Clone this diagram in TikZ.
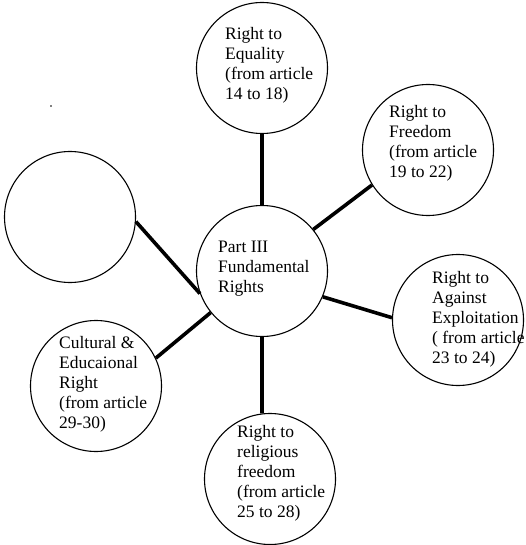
\documentclass[tikz,border=0pt]{standalone}
\usepackage{fontspec}
\setmainfont{Liberation Serif}
\usepackage{tikz}
\tikzset{
  bubble/.style={circle,draw,line width=1.1pt,minimum size=131pt,inner sep=0pt},
  spoke/.style={line width=3.6pt},
  label/.style={anchor=north west,align=left,inner sep=0pt,
    font=\fontsize{17.5}{20}\selectfont},
}

\begin{document}
\begin{tikzpicture}[x=1pt,y=-1pt]
        \useasboundingbox (0,0) rectangle (525,545);

        % CIRCLES
        \node[bubble] (FR) at (262,271) {};
        \node[bubble] (EQ) at (262,68) {};
        \node[bubble] (FD) at (428,150) {};
        \node[bubble] (NN) at (70,217) {};
        \node[bubble] (EX) at (458,320) {};
        \node[bubble] (CU) at (96,386) {};
        \node[bubble] (RE) at (270,479) {};

        % TEXTS (top of first line)
        \node[label] (FRt) at (218,241) {Part III\\Fundamental\\Rights};
        \node[label] (EQt) at (225,27) {Right to\\Equality\\(from article\\14 to 18)};
        \node[label] (FDt) at (389,105) {Right to\\Freedom\\(from article\\19 to 22)};
        \node[label] (EXt) at (432,271) {Right to\\Against\\Exploitation\\( from article\\23 to 24)};
        \node[label] (CUt) at (59,336) {Cultural \&\\Educaional\\Right\\(from article\\29-30)};
        \node[label] (REt) at (237,425) {Right to\\religious\\freedom\\(from article\\25 to 28)};

        % LINES
        \draw[spoke] (FR.90) -- (EQ.270);
        \draw[spoke] (FR.39) -- (FD.212);
        \draw[spoke] (FR.200) -- (NN.-4);
        \draw[spoke] (FR.-23) -- (EX.178);
        \draw[spoke] (FR.219) -- (CU.25);
        \draw[spoke] (FR.270) -- (RE.97);

        % DOT
        \fill (51,106) circle (0.8);

    \end{tikzpicture}
\end{document}
